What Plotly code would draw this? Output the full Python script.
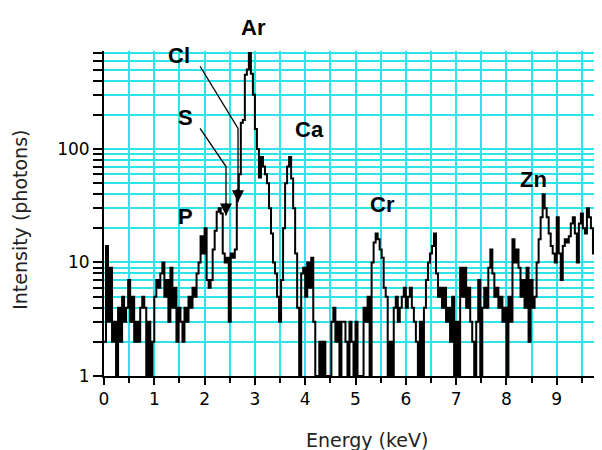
import numpy as np
import plotly.graph_objects as go

# ---- data ----
channel_width_kev = 0.04
counts = [
    # 0.00 - 0.96 keV
    2, 14, 3, 9, 2, 3, 1, 4, 2, 5, 3, 4, 7, 3, 5, 2, 3, 2, 4, 5, 4, 1, 3, 1, 2,
    # 1.00 - 1.96
    5, 7, 6, 8, 10, 5, 7, 3, 9, 4, 6, 2, 4, 3, 2, 4, 3, 5, 4, 6, 5, 8, 10, 17, 12,
    # 2.00 - 3.00
    20, 7, 6, 7, 13, 19, 28, 30, 27, 12, 10, 11, 3, 12, 11, 13, 43, 60, 170, 180, 450, 500, 700, 460, 300,
    # 3.04 - 3.96
    150, 100, 56, 85, 70, 60, 50, 30, 18, 10, 8, 5, 3, 7, 20, 50, 70, 85, 55, 30, 12, 4, 1, 8,
    # 4.00 - 4.96
    9, 5, 10, 6, 11, 3, 1, 1, 2, 1, 2, 1, 1, 1, 3, 4, 2, 3, 1, 3, 3, 2, 1, 3, 2,
    # 5.00 - 5.96
    1, 3, 1, 1, 1, 4, 3, 5, 1, 10, 15, 18, 16, 13, 11, 6, 5, 1, 2, 1, 4, 5, 3, 4, 5,
    # 6.00 - 6.96
    6, 4, 5, 6, 4, 3, 2, 1, 3, 1, 4, 7, 10, 12, 14, 18, 8, 5, 6, 4, 6, 3, 4, 2, 5,
    # 7.00 - 7.96
    1, 3, 1, 9, 5, 9, 4, 6, 3, 2, 1, 3, 7, 1, 4, 6, 4, 9, 13, 8, 5, 6, 4, 5, 3,
    # 8.00 - 8.96
    4, 1, 5, 3, 16, 10, 13, 9, 5, 7, 4, 9, 2, 7, 4, 5, 10, 16, 25, 40, 30, 25, 18, 14, 12,
    # 9.00 - 9.92
    10, 25, 12, 7, 14, 16, 15, 17, 22, 25, 18, 10, 22, 27, 20, 18, 30, 25, 20, 12, 17, 10, 15, 20,
]
energy = [round(i * channel_width_kev, 2) for i in range(len(counts))]

# element labels (data coordinates)
label_text = ["Cl", "S", "P", "Ca", "Cr", "Zn"]
label_x = [1.49, 1.63, 1.63, 4.08, 5.53, 8.53]
label_y = [668, 190, 25.5, 149, 32.6, 54]
# "Ar" sits above the plotting area (paper coordinates)
top_label_text = "Ar"
top_label_pos = (0.301, 1.071)

# bent leader arrows (start, bend, tip)
arrow_names = ["Cl", "S"]
arrow_x = [[1.91, 2.664, 2.664], [1.91, 2.425, 2.425]]
arrow_y = [[535, 152, 34], [152, 70, 26]]

major_y = [1, 10, 100]
minor_y = [2, 3, 4, 5, 6, 7, 8, 9, 20, 30, 40, 50, 60, 70, 80, 90,
           200, 300, 400, 500, 600, 700]
major_x = list(range(0, 10))
minor_x = [0.5, 1.5, 2.5, 3.5, 4.5, 5.5, 6.5, 7.5, 8.5, 9.5]

grid_color = "#2ee3ea"
font_fam = "DejaVu Sans"
label_font = dict(family="Liberation Sans", size=22, color="black")

fig = go.Figure()

fig.add_trace(go.Scatter(
    x=energy, y=counts, mode="lines", line=dict(color="black", width=2, shape="hv"),
    showlegend=False, hoverinfo="skip",
))

for name, xs, ys in zip(arrow_names, arrow_x, arrow_y):
    fig.add_trace(go.Scatter(
        x=xs, y=ys, mode="lines", line=dict(color="black", width=1.3),
        showlegend=False, hoverinfo="skip", cliponaxis=False,
    ))
    fig.add_annotation(
        x=xs[-1], y=np.log10(ys[-1]), xref="x", yref="y", text="",
        showarrow=True, arrowhead=2, arrowsize=1.6, arrowwidth=1.5,
        arrowcolor="black", ax=0, ay=-14, standoff=0,
    )

for t, x, y in zip(label_text, label_x, label_y):
    fig.add_annotation(
        x=x, y=np.log10(y), xref="x", yref="y", text="<b>%s</b>" % t,
        showarrow=False, font=label_font, xanchor="center", yanchor="middle",
    )
fig.add_annotation(
    x=top_label_pos[0], y=top_label_pos[1], xref="paper", yref="paper",
    text="<b>%s</b>" % top_label_text, showarrow=False, font=label_font,
    xanchor="center", yanchor="middle",
)

fig.add_annotation(
    x=0.528, y=-0.197, xref="paper", yref="paper", text="Energy (keV)",
    showarrow=False, font=dict(family=font_fam, size=19, color="#222222"),
    xanchor="center", yanchor="middle",
)
fig.add_annotation(
    x=-0.169, y=0.48, xref="paper", yref="paper", text="Intensity (photons)",
    showarrow=False, textangle=-90, font=dict(family=font_fam, size=19, color="#222222"),
    xanchor="center", yanchor="middle",
)

fig.update_xaxes(
    range=[0, 9.9], tickmode="array", tickvals=major_x,
    ticktext=[str(v) for v in major_x], automargin=False,
    showgrid=True, gridcolor=grid_color, gridwidth=2,
    ticks="outside", ticklen=7, tickwidth=2, tickcolor="black",
    showline=True, linecolor="black", linewidth=2,
    minor=dict(tickmode="array", tickvals=minor_x, showgrid=True, gridcolor=grid_color,
               gridwidth=2, ticks="outside", ticklen=5, tickwidth=2, tickcolor="black"),
    tickfont=dict(family=font_fam, size=17, color="black"),
    zeroline=False,
)
fig.update_yaxes(
    type="log", range=[0, 2.863], tickmode="array", tickvals=major_y,
    ticktext=["1", "10", "100"], automargin=False,
    showgrid=True, gridcolor=grid_color, gridwidth=2,
    ticks="outside", ticklen=9, tickwidth=2, tickcolor="black",
    showline=True, linecolor="black", linewidth=2,
    minor=dict(tickmode="array", tickvals=minor_y, showgrid=True, gridcolor=grid_color,
               gridwidth=2, ticks="outside", ticklen=9, tickwidth=1.5, tickcolor="black"),
    tickfont=dict(family=font_fam, size=17, color="black"),
    zeroline=False,
)

# the page body adds an 8px offset, so the figure is 8px smaller than the window
fig.update_layout(
    width=594, height=442,
    margin=dict(l=96, r=0, t=43, b=74, autoexpand=False),
    paper_bgcolor="white", plot_bgcolor="white",
    showlegend=False,
)

fig.write_html("out.html")
